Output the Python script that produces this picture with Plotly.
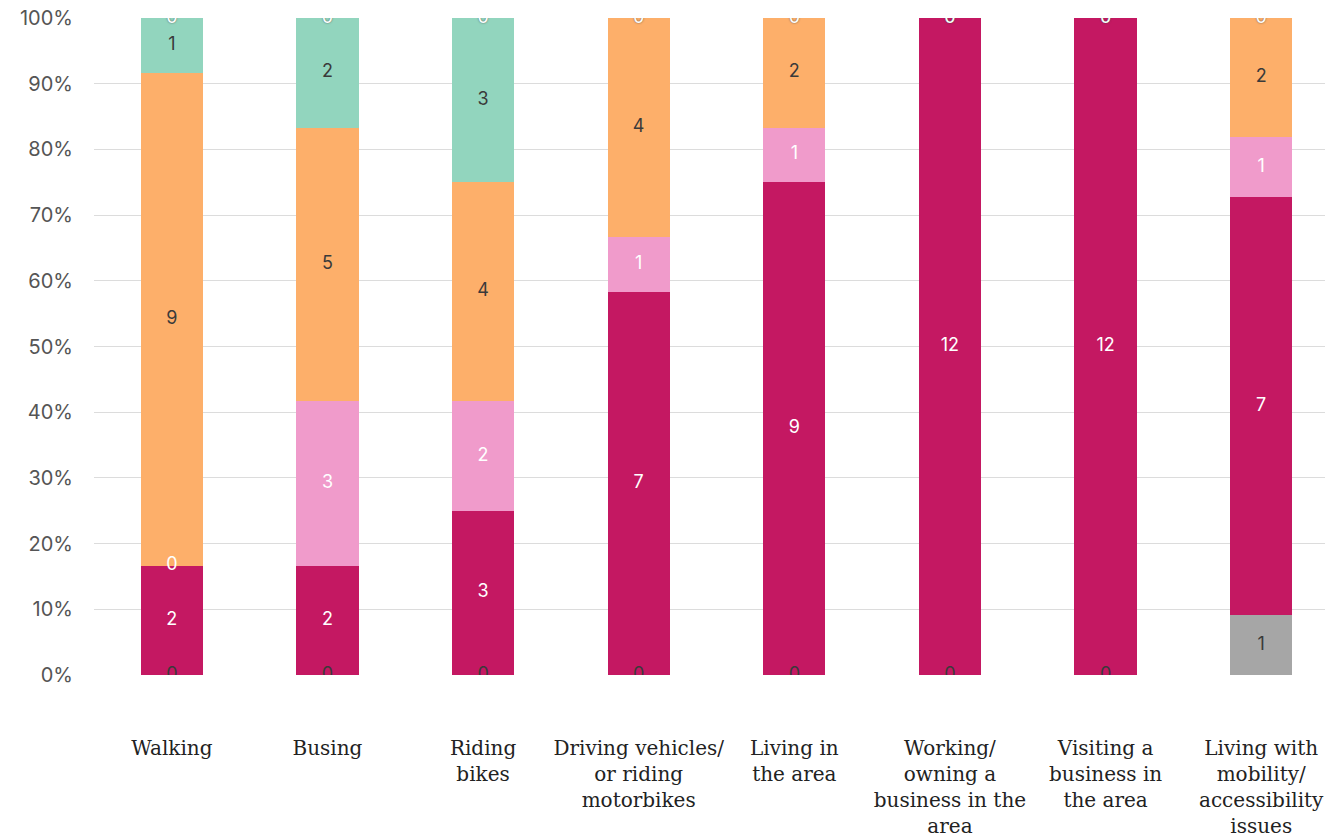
import plotly.graph_objects as go

categories = [
    "Walking",
    "Busing",
    "Riding<br>bikes",
    "Driving vehicles/<br>or riding<br>motorbikes",
    "Living in<br>the area",
    "Working/<br>owning a<br>business in the<br>area",
    "Visiting a<br>business in<br>the area",
    "Living with<br>mobility/<br>accessibility<br>issues",
]

# Response counts per category, stacked bottom to top
grey_counts = [0, 0, 0, 0, 0, 0, 0, 1]
magenta_counts = [2, 2, 3, 7, 9, 12, 12, 7]
pink_counts = [0, 3, 2, 1, 1, 0, 0, 1]
orange_counts = [9, 5, 4, 4, 2, 0, 0, 2]
teal_counts = [1, 2, 3, 0, 0, 0, 0, 0]
top_counts = [0, 0, 0, 0, 0, 0, 0, 0]

series = [
    ("grey", grey_counts, "#A6A6A6", "#3a3a3a"),
    ("magenta", magenta_counts, "#C41862", "#ffffff"),
    ("pink", pink_counts, "#F09BCB", "#ffffff"),
    ("orange", orange_counts, "#FDAF6A", "#3a3a3a"),
    ("teal", teal_counts, "#92D5BE", "#3a3a3a"),
    ("top", top_counts, "#cccccc", "#ffffff"),
]

totals = [sum(s[1][i] for s in series) for i in range(len(categories))]
x_idx = list(range(len(categories)))

fig = go.Figure()
base = [0.0] * len(categories)
label_traces = []
for name, counts, color, txtcolor in series:
    pct = [100.0 * c / t for c, t in zip(counts, totals)]
    fig.add_trace(go.Bar(
        x=x_idx, y=pct, name=name, marker=dict(color=color, line=dict(width=0)),
        hoverinfo="skip", showlegend=False,
    ))
    mids = [b + p / 2 for b, p in zip(base, pct)]
    xs, ys, ts = [], [], []
    for i, (c, m) in enumerate(zip(counts, mids)):
        # a zero teal segment sits under the top label, so skip it
        if c == 0 and name == "teal":
            continue
        xs.append(i)
        ys.append(m)
        ts.append(str(c))
    shadow = "0px 0px 2px rgba(60,60,60,0.8)" if name == "top" else "none"
    label_traces.append(go.Scatter(
        x=xs, y=ys, text=ts, mode="text", showlegend=False, hoverinfo="skip",
        textfont=dict(family="Inter, sans-serif", size=18, color=txtcolor, shadow=shadow),
        cliponaxis=True,
    ))
    base = [b + p for b, p in zip(base, pct)]

for t in label_traces:
    fig.add_trace(t)

fig.update_layout(
    barmode="stack",
    bargap=0.6,
    width=1325,
    height=838,
    margin=dict(l=94, r=0, t=18, b=163),
    plot_bgcolor="white",
    paper_bgcolor="white",
    xaxis=dict(
        range=[-0.5, 7.41],
        tickmode="array",
        tickvals=x_idx,
        ticktext=categories,
        showgrid=False,
        zeroline=False,
        showline=False,
        ticks="",
        ticklabelstandoff=59,
        tickfont=dict(family="DejaVu Serif, serif", size=20, color="#222222"),
    ),
    yaxis=dict(
        range=[0, 100],
        tickvals=list(range(0, 101, 10)),
        ticktext=[f"{v}%" for v in range(0, 101, 10)],
        showgrid=True,
        gridcolor="#dcdcdc",
        gridwidth=1,
        zeroline=False,
        showline=False,
        ticks="",
        ticklabelstandoff=20,
        tickfont=dict(family="Inter, sans-serif", size=20, color="#555555"),
    ),
)

fig.write_html("out.html")
